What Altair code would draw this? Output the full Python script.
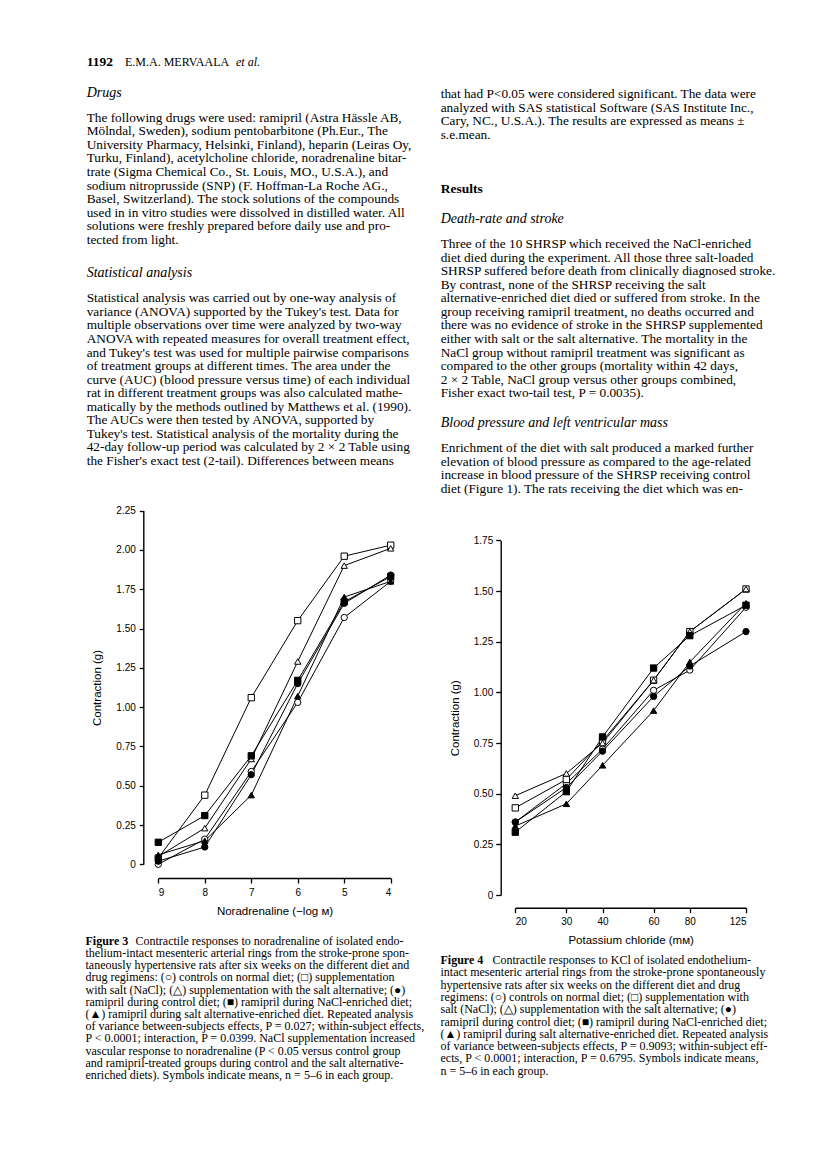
import altair as alt
import pandas as pd

W, H = 800, 1155  # page 816x1171 minus 8px margins

# ---------------- data ----------------
GROUPS = ["control", "NaCl", "salt alternative",
          "ramipril control", "ramipril NaCl", "ramipril salt alternative"]
SHAPES = ["circle", "square", "triangle-up", "circle", "square", "triangle-up"]
FILLS = ["white", "white", "white", "black", "black", "black"]

# Figure 3: noradrenaline (-log M)
NA_X = [9, 8, 7, 6, 5, 4]
NA_CONTROL = [0.00, 0.16, 0.59, 1.03, 1.57, 1.80]
NA_NACL = [0.04, 0.44, 1.06, 1.55, 1.96, 2.03]
NA_SALTALT = [0.05, 0.23, 0.67, 1.29, 1.90, 2.01]
NA_RAM_CONTROL = [0.02, 0.11, 0.57, 1.15, 1.66, 1.84]
NA_RAM_NACL = [0.14, 0.31, 0.69, 1.17, 1.67, 1.83]
NA_RAM_SALTALT = [0.06, 0.15, 0.44, 1.07, 1.70, 1.80]

# Figure 4: potassium chloride (mM)
K_X = [20, 30, 40, 60, 80, 125]
K_CONTROL = [0.36, 0.55, 0.72, 1.01, 1.11, 1.42]
K_NACL = [0.43, 0.57, 0.76, 1.06, 1.30, 1.51]
K_SALTALT = [0.49, 0.60, 0.75, 1.06, 1.30, 1.51]
K_RAM_CONTROL = [0.36, 0.53, 0.71, 0.98, 1.13, 1.30]
K_RAM_NACL = [0.31, 0.51, 0.78, 1.12, 1.28, 1.43]
K_RAM_SALTALT = [0.34, 0.45, 0.64, 0.91, 1.15, 1.44]

NA_TICKS = [0, 0.25, 0.5, 0.75, 1.0, 1.25, 1.5, 1.75, 2.0, 2.25]
K_TICKS = [0, 0.25, 0.5, 0.75, 1.0, 1.25, 1.5, 1.75]

# ---------------- text ----------------
HEADER_NUM = "1192"
HEADER_AUTH = "E.M.A. MERVAALA"
HEADER_ETAL = "et al."

DRUGS_HEAD = "Drugs"
DRUGS = [
    "The following drugs were used: ramipril (Astra Hässle AB,",
    "Mölndal, Sweden), sodium pentobarbitone (Ph.Eur., The",
    "University Pharmacy, Helsinki, Finland), heparin (Leiras Oy,",
    "Turku, Finland), acetylcholine chloride, noradrenaline bitar-",
    "trate (Sigma Chemical Co., St. Louis, MO., U.S.A.), and",
    "sodium nitroprusside (SNP) (F. Hoffman-La Roche AG.,",
    "Basel, Switzerland). The stock solutions of the compounds",
    "used in in vitro studies were dissolved in distilled water. All",
    "solutions were freshly prepared before daily use and pro-",
    "tected from light.",
]
STAT_HEAD = "Statistical analysis"
STAT = [
    "Statistical analysis was carried out by one-way analysis of",
    "variance (ANOVA) supported by the Tukey's test. Data for",
    "multiple observations over time were analyzed by two-way",
    "ANOVA with repeated measures for overall treatment effect,",
    "and Tukey's test was used for multiple pairwise comparisons",
    "of treatment groups at different times. The area under the",
    "curve (AUC) (blood pressure versus time) of each individual",
    "rat in different treatment groups was also calculated mathe-",
    "matically by the methods outlined by Matthews et al. (1990).",
    "The AUCs were then tested by ANOVA, supported by",
    "Tukey's test. Statistical analysis of the mortality during the",
    "42-day follow-up period was calculated by 2 × 2 Table using",
    "the Fisher's exact test (2-tail). Differences between means",
]
CONT = [
    "that had P<0.05 were considered significant. The data were",
    "analyzed with SAS statistical Software (SAS Institute Inc.,",
    "Cary, NC., U.S.A.). The results are expressed as means ±",
    "s.e.mean.",
]
RESULTS_HEAD = "Results"
DEATH_HEAD = "Death-rate and stroke"
DEATH = [
    "Three of the 10 SHRSP which received the NaCl-enriched",
    "diet died during the experiment. All those three salt-loaded",
    "SHRSP suffered before death from clinically diagnosed stroke.",
    "By contrast, none of the SHRSP receiving the salt",
    "alternative-enriched diet died or suffered from stroke. In the",
    "group receiving ramipril treatment, no deaths occurred and",
    "there was no evidence of stroke in the SHRSP supplemented",
    "either with salt or the salt alternative. The mortality in the",
    "NaCl group without ramipril treatment was significant as",
    "compared to the other groups (mortality within 42 days,",
    "2 × 2 Table, NaCl group versus other groups combined,",
    "Fisher exact two-tail test, P = 0.0035).",
]
BP_HEAD = "Blood pressure and left ventricular mass"
BP = [
    "Enrichment of the diet with salt produced a marked further",
    "elevation of blood pressure as compared to the age-related",
    "increase in blood pressure of the SHRSP receiving control",
    "diet (Figure 1). The rats receiving the diet which was en-",
]
CAP3_LABEL = "Figure 3"
CAP3 = [
    "Contractile responses to noradrenaline of isolated endo-",
    "thelium-intact mesenteric arterial rings from the stroke-prone spon-",
    "taneously hypertensive rats after six weeks on the different diet and",
    "drug regimens: (○) controls on normal diet; (□) supplementation",
    "with salt (NaCl); (△) supplementation with the salt alternative; (●)",
    "ramipril during control diet; (■) ramipril during NaCl-enriched diet;",
    "(▲) ramipril during salt alternative-enriched diet. Repeated analysis",
    "of variance between-subjects effects, P = 0.027; within-subject effects,",
    "P < 0.0001; interaction, P = 0.0399. NaCl supplementation increased",
    "vascular response to noradrenaline (P < 0.05 versus control group",
    "and ramipril-treated groups during control and the salt alternative-",
    "enriched diets). Symbols indicate means, n = 5–6 in each group.",
]
CAP4_LABEL = "Figure 4"
CAP4 = [
    "Contractile responses to KCl of isolated endothelium-",
    "intact mesenteric arterial rings from the stroke-prone spontaneously",
    "hypertensive rats after six weeks on the different diet and drug",
    "regimens: (○) controls on normal diet; (□) supplementation with",
    "salt (NaCl); (△) supplementation with the salt alternative; (●)",
    "ramipril during control diet; (■) ramipril during NaCl-enriched diet;",
    "(▲) ramipril during salt alternative-enriched diet. Repeated analysis",
    "of variance between-subjects effects, P = 0.9093; within-subject eff-",
    "ects, P < 0.0001; interaction, P = 0.6795. Symbols indicate means,",
    "n = 5–6 in each group.",
]

# ---------------- layout helpers (page px -> chart px) ----------------
M = 8
LX, RX = 86.7 - M, 440.7 - M
C3X, C4X = 85.5 - M, 440.5 - M


def block(lines, x, y0, step, first_dx=0.0):
    rows = []
    for i, t in enumerate(lines):
        rows.append({"px": x + (first_dx if i == 0 else 0), "py": y0 - M + i * step, "txt": t})
    return rows


body_rows = (block(DRUGS, LX, 117.7, 13.58) + block(STAT, LX, 298.3, 13.56)
             + block(CONT, RX, 94.0, 13.67) + block(DEATH, RX, 244.0, 13.57)
             + block(BP, RX, 448.3, 13.57))
hdr_rows = [{"px": 125 - M, "py": 61.7 - M, "txt": HEADER_AUTH}]
cap_rows = block(CAP3, C3X, 940.7, 12.2, first_dx=50.0) + block(CAP4, C4X, 960.0, 12.3, first_dx=52.0)
italic_rows = [
    {"px": LX, "py": 93.3 - M, "txt": DRUGS_HEAD},
    {"px": LX, "py": 272.7 - M, "txt": STAT_HEAD},
    {"px": RX, "py": 218.7 - M, "txt": DEATH_HEAD},
    {"px": RX, "py": 422.7 - M, "txt": BP_HEAD},
]
bold_rows = [
    {"px": LX, "py": 61.7 - M, "txt": HEADER_NUM},
    {"px": RX, "py": 189.0 - M, "txt": RESULTS_HEAD},
]
hdr_italic_rows = [{"px": 236.0 - M, "py": 61.7 - M, "txt": HEADER_ETAL}]
capbold_rows = [
    {"px": C3X, "py": 940.7 - M, "txt": CAP3_LABEL},
    {"px": C4X, "py": 960.0 - M, "txt": CAP4_LABEL},
]

SERIF = "Liberation Serif"
SANS = "Liberation Sans"


def text_layer(rows, size, style="normal", weight="normal"):
    return alt.Chart(pd.DataFrame(rows)).mark_text(
        font=SERIF, fontSize=size, fontStyle=style, fontWeight=weight,
        align="left", baseline="middle", color="black"
    ).encode(
        x=alt.X("px:Q", scale=None, axis=None),
        y=alt.Y("py:Q", scale=None, axis=None),
        text="txt:N",
    )


texts = [
    text_layer(body_rows, 13.3),
    text_layer(hdr_rows, 12),
    text_layer(italic_rows, 14, style="italic"),
    text_layer(hdr_italic_rows, 12, style="italic"),
    text_layer(bold_rows, 13.5, weight="bold"),
    text_layer(cap_rows, 12),
    text_layer(capbold_rows, 12, weight="bold"),
]


# ---------------- figures ----------------
def long_df(xs, series):
    rows = []
    for g, ys in zip(GROUPS, series):
        for x, y in zip(xs, ys):
            rows.append({"x": x, "y": y, "group": g})
    return pd.DataFrame(rows)


df3 = long_df(NA_X, [NA_CONTROL, NA_NACL, NA_SALTALT, NA_RAM_CONTROL, NA_RAM_NACL, NA_RAM_SALTALT])
df4 = long_df(K_X, [K_CONTROL, K_NACL, K_SALTALT, K_RAM_CONTROL, K_RAM_NACL, K_RAM_SALTALT])

LABEL_EXPR = "datum.value == 0 ? '0' : format(datum.value, '.2f')"
AX = dict(grid=False, domainColor="black", tickColor="black", labelColor="black",
          titleColor="black", labelFont=SANS, titleFont=SANS, labelFontSize=10,
          titleFontSize=11.5, titleFontWeight="normal", domainWidth=1.4, tickWidth=1.3)

shape_enc = alt.Shape("group:N", scale=alt.Scale(domain=GROUPS, range=SHAPES), legend=None)
fill_enc = alt.Fill("group:N", scale=alt.Scale(domain=GROUPS, range=FILLS), legend=None)


def figure(df, xscale, xaxis, yscale, yaxis):
    X = alt.X("x:Q", scale=xscale, axis=xaxis)
    Y = alt.Y("y:Q", scale=yscale, axis=yaxis)
    lines = alt.Chart(df).mark_line(color="black", strokeWidth=1).encode(
        x=X, y=Y, detail="group:N")
    pts = alt.Chart(df).mark_point(filled=True, stroke="black", strokeWidth=1,
                                   size=40, opacity=1).encode(
        x=X, y=Y, shape=shape_enc, fill=fill_enc)
    return alt.layer(lines, pts)


fig3 = figure(
    df3,
    alt.Scale(domain=[9, 4], range=[158.3 - M, 390.7 - M], nice=False, zero=False),
    alt.Axis(orient="bottom", offset=(878 - M) - H, values=NA_X, format="d",
             title="Noradrenaline (−log м)", tickSize=5, labelPadding=4,
             titlePadding=8, **AX),
    alt.Scale(domain=[0, 2.25], range=[864.3 - M, 510.6 - M], nice=False, zero=False),
    alt.Axis(orient="left", offset=-(143.3 - M), values=NA_TICKS, labelExpr=LABEL_EXPR,
             title="Contraction (g)", tickSize=4, labelPadding=4, titlePadding=13, **AX),
)

fig4 = figure(
    df4,
    alt.Scale(type="log", domain=[20, 125], range=[515.3 - M, 746 - M], nice=False),
    alt.Axis(orient="bottom", offset=(907.7 - M) - H, values=K_X, format="d",
             title="Potassium chloride (mм)", tickSize=5, labelPadding=4,
             titlePadding=8, **AX),
    alt.Scale(domain=[0, 1.75], range=[895 - M, 540.4 - M], nice=False, zero=False),
    alt.Axis(orient="left", offset=-(500.7 - M), values=K_TICKS, labelExpr=LABEL_EXPR,
             title="Contraction (g)", tickSize=5, labelPadding=3, titlePadding=13, **AX),
)

chart = alt.layer(*texts, fig3, fig4).resolve_scale(
    x="independent", y="independent"
).properties(
    width=W, height=H, padding=0, autosize=alt.AutoSizeParams(type="none"),
    background="white",
).configure_view(stroke=None)

chart.save("out.html", embed_options={"renderer": "svg", "actions": False})
